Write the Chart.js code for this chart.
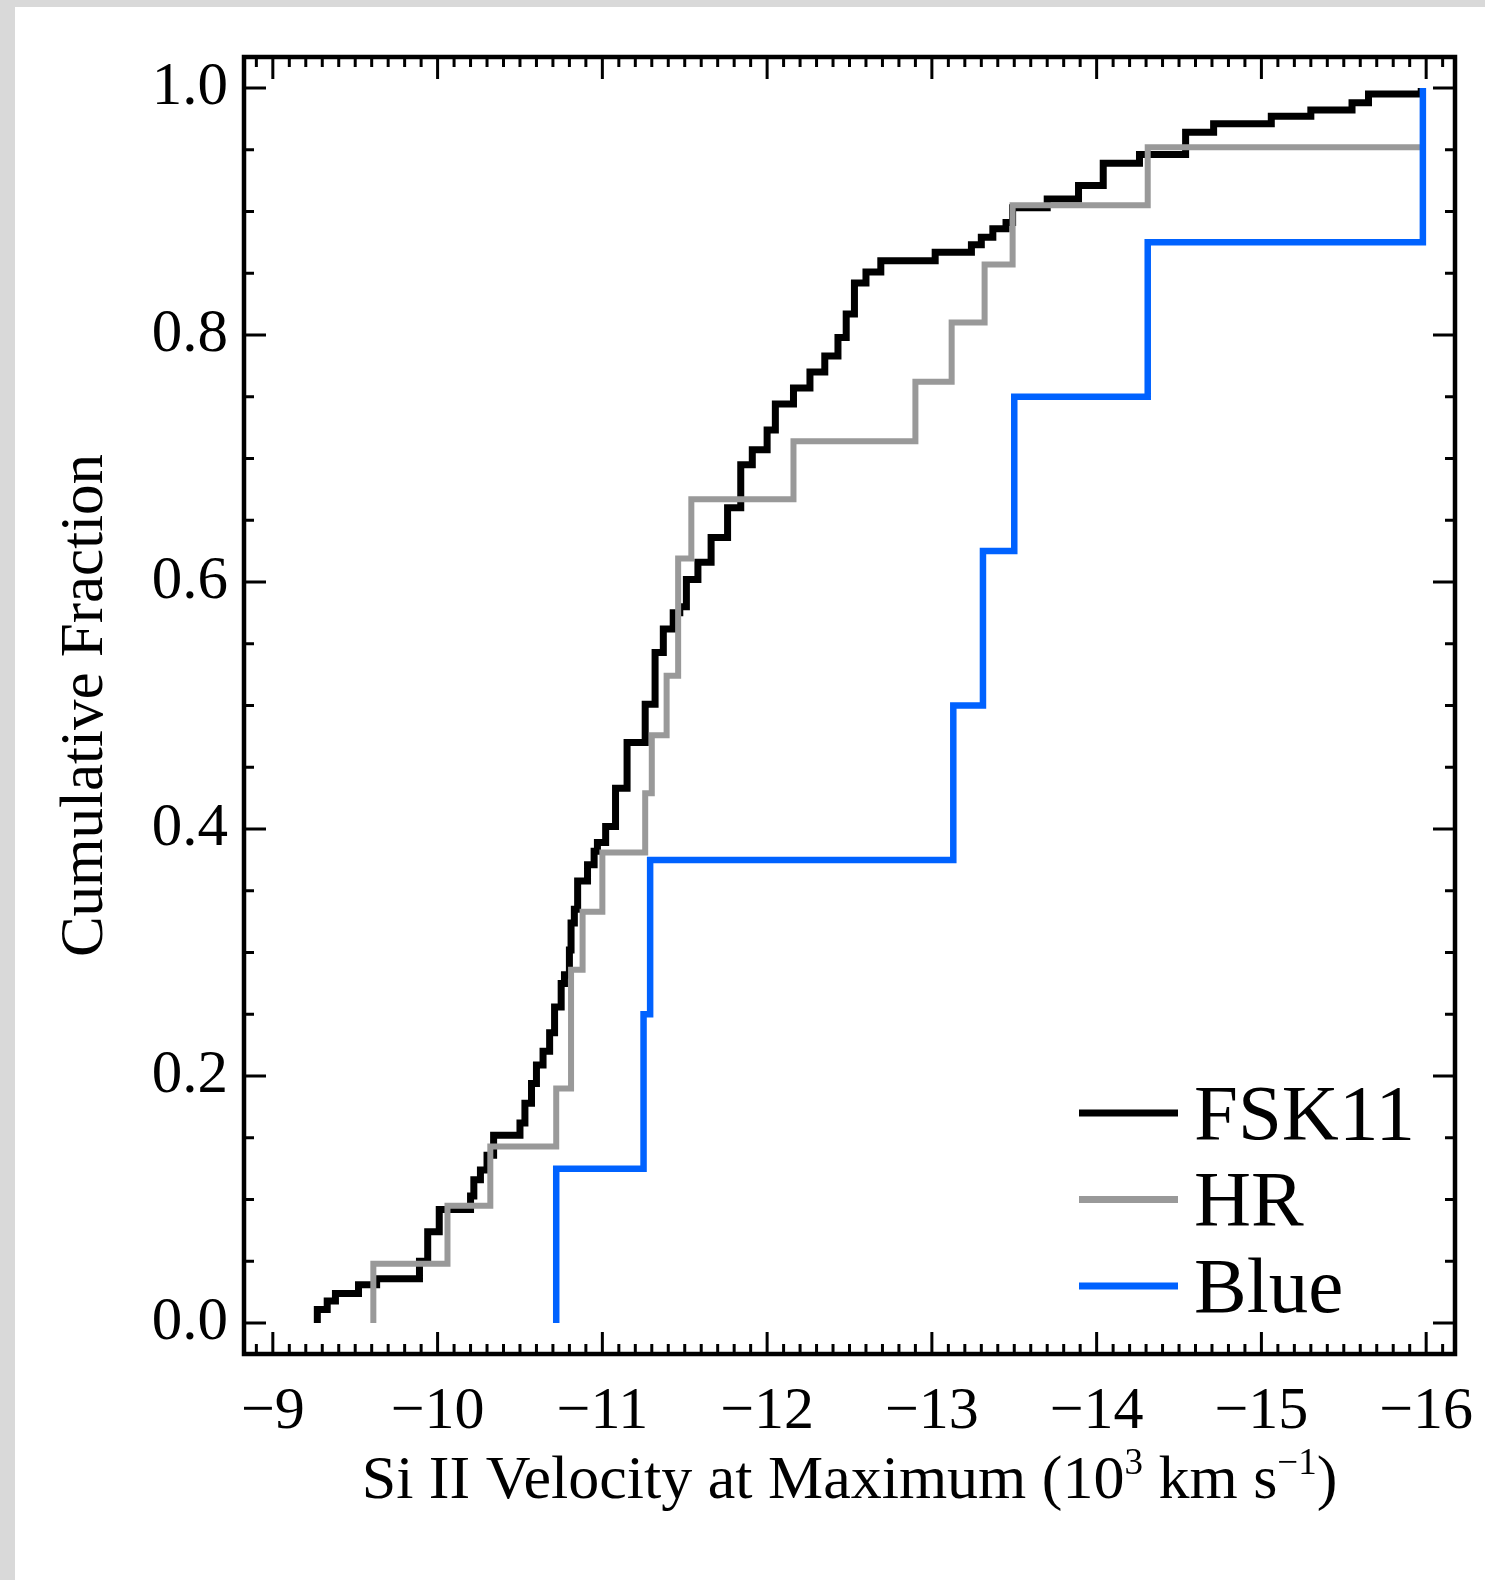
<!DOCTYPE html>
<html>
<head>
<meta charset="utf-8">
<title>Si II velocity at maximum - cumulative fraction</title>
<script src="https://cdn.jsdelivr.net/npm/chart.js@4.4.1/dist/chart.umd.min.js"></script>
<style>
  html, body { margin: 0; padding: 0; background: #fff; }
  #wrap { position: relative; width: 1485px; height: 1580px; overflow: hidden; }
  .edge { position: absolute; background: #d9d9d9; }
  #chart { position: absolute; left: 0; top: 0; }
</style>
</head>
<body>
<div id="wrap">
  <div class="edge" style="left:0;top:0;width:15px;height:1580px"></div>
  <div class="edge" style="left:0;top:0;width:1485px;height:7px"></div>
  <canvas id="chart" width="1485" height="1580"></canvas>
</div>
<script>
// --- data (velocity in 10^3 km/s, cumulative fraction) ---
const fskVel = [-9.27, -9.27, -9.33, -9.38, -9.52, -9.63, -9.89, -9.94, -10.01, -10.20,
    -10.22, -10.26, -10.30, -10.34, -10.50, -10.53, -10.57, -10.60, -10.64, -10.68,
    -10.71, -10.75, -10.77, -10.80, -10.81, -10.83, -10.85, -10.91, -10.95, -10.97,
    -11.02, -11.08, -11.15, -11.26, -11.32, -11.37, -11.43, -11.47, -11.51, -11.58,
    -11.66, -11.76, -11.84, -11.91, -12.00, -12.05, -12.16, -12.26, -12.35, -12.43,
    -12.48, -12.53, -12.60, -12.69, -13.02, -13.24, -13.30, -13.37, -13.45, -13.49,
    -13.70, -13.89, -14.04, -14.26, -14.54, -14.71, -15.06, -15.30, -15.55, -15.65, -15.97];
const fskFrac = [0, 0.011, 0.018, 0.024, 0.031, 0.036, 0.050, 0.074, 0.092, 0.103,
    0.116, 0.124, 0.136, 0.152, 0.162, 0.178, 0.194, 0.209, 0.220, 0.235,
    0.256, 0.275, 0.282, 0.302, 0.324, 0.335, 0.358, 0.371, 0.382, 0.389,
    0.402, 0.433, 0.470, 0.501, 0.543, 0.562, 0.575, 0.580, 0.602, 0.616,
    0.636, 0.660, 0.695, 0.707, 0.723, 0.744, 0.757, 0.770, 0.783, 0.798,
    0.817, 0.842, 0.851, 0.860, 0.867, 0.873, 0.879, 0.886, 0.891, 0.903,
    0.910, 0.921, 0.939, 0.946, 0.964, 0.971, 0.977, 0.982, 0.988, 0.995, 1.0];

const hrVel = [-9.61, -9.61, -10.06, -10.32, -10.72, -10.81, -10.88, -11.00, -11.26, -11.30,
    -11.39, -11.46, -11.46, -11.54, -12.16, -12.90, -13.12, -13.32, -13.49, -14.31, -15.97];
const hrFrac = [0, 0.048, 0.095, 0.143, 0.190, 0.286, 0.333, 0.381, 0.429, 0.476,
    0.524, 0.571, 0.619, 0.667, 0.714, 0.762, 0.810, 0.857, 0.905, 0.952, 0.952];

const blueVel = [-10.72, -10.72, -11.25, -11.29, -13.13, -13.31, -13.50, -14.31, -15.98];
const blueFrac = [0, 0.125, 0.25, 0.375, 0.5, 0.625, 0.75, 0.875, 1.0];

const xTicks = [-9, -10, -11, -12, -13, -14, -15, -16];
const yTicks = [0, 0.2, 0.4, 0.6, 0.8, 1.0];

const SERIF = "'Liberation Serif', 'Times New Roman', Times, serif";

function toPoints(xs, ys) {
    return xs.map((x, i) => ({ x: x, y: ys[i] }));
}

// --- inward ticks on all four sides + box frame ---
const frameTicks = {
    id: 'frameTicks',
    afterDatasetsDraw(chart) {
        const { ctx, chartArea: a, scales: { x, y } } = chart;
        ctx.save();
        ctx.strokeStyle = '#000';
        ctx.lineWidth = 3;
        ctx.beginPath();
        for (let i = -89; i >= -161; i--) {
            const px = x.getPixelForValue(i / 10);
            const len = i % 10 === 0 ? 22 : 10;
            ctx.moveTo(px, a.bottom); ctx.lineTo(px, a.bottom - len);
            ctx.moveTo(px, a.top); ctx.lineTo(px, a.top + len);
        }
        for (let j = 0; j <= 20; j++) {
            const py = y.getPixelForValue(j / 20);
            const len = j % 4 === 0 ? 22 : 10;
            ctx.moveTo(a.left, py); ctx.lineTo(a.left + len, py);
            ctx.moveTo(a.right, py); ctx.lineTo(a.right - len, py);
        }
        ctx.stroke();
        ctx.lineWidth = 4.5;
        ctx.strokeRect(a.left, a.top, a.right - a.left, a.bottom - a.top);
        ctx.restore();
    }
};

// --- legend in the lower right corner ---
const cornerLegend = {
    id: 'cornerLegend',
    afterDraw(chart) {
        const ctx = chart.ctx;
        ctx.save();
        ctx.font = '79px ' + SERIF;
        ctx.fillStyle = '#000';
        ctx.textBaseline = 'alphabetic';
        chart.data.datasets.forEach((ds, i) => {
            const yLine = 1113 + i * 86.5;
            ctx.strokeStyle = ds.borderColor;
            ctx.lineWidth = 7;
            ctx.beginPath();
            ctx.moveTo(1079, yLine);
            ctx.lineTo(1178, yLine);
            ctx.stroke();
            ctx.fillText(ds.label, 1194, yLine + 25.5);
        });
        ctx.restore();
    }
};

// --- x-axis title with superscripts ---
const xTitle = {
    id: 'xTitle',
    afterDraw(chart) {
        const ctx = chart.ctx;
        const a = chart.chartArea;
        const parts = [
            { t: 'Si II Velocity at Maximum (10', sup: false },
            { t: '3', sup: true },
            { t: ' km s', sup: false },
            { t: '\u22121', sup: true },
            { t: ')', sup: false }
        ];
        const big = '62px ' + SERIF, small = '37px ' + SERIF;
        ctx.save();
        ctx.fillStyle = '#000';
        ctx.textBaseline = 'alphabetic';
        let total = 0;
        parts.forEach(p => { ctx.font = p.sup ? small : big; p.w = ctx.measureText(p.t).width; total += p.w; });
        let xPos = (a.left + a.right) / 2 - total / 2;
        const base = 1498;
        parts.forEach(p => {
            ctx.font = p.sup ? small : big;
            ctx.fillText(p.t, xPos, p.sup ? base - 24 : base);
            xPos += p.w;
        });
        ctx.restore();
    }
};

const ctx = document.getElementById('chart').getContext('2d');

const chart = new Chart(ctx, {
    type: 'line',
    data: {
        datasets: [{
            label: 'FSK11',
            data: toPoints(fskVel, fskFrac),
            borderColor: '#000000',
            borderWidth: 7,
            order: 3
        }, {
            label: 'HR',
            data: toPoints(hrVel, hrFrac),
            borderColor: '#999999',
            borderWidth: 6,
            order: 2
        }, {
            label: 'Blue',
            data: toPoints(blueVel, blueFrac),
            borderColor: '#0062ff',
            borderWidth: 6.5,
            order: 1
        }]
    },
    options: {
        responsive: false,
        animation: false,
        events: [],
        elements: {
            line: { stepped: 'before', tension: 0, fill: false, borderJoinStyle: 'miter', borderCapStyle: 'butt' },
            point: { radius: 0 }
        },
        layout: { padding: { left: 0, top: 57, right: 30, bottom: 0 } },
        plugins: {
            legend: { display: false },
            tooltip: { enabled: false }
        },
        scales: {
            x: {
                type: 'linear',
                reverse: true,
                min: -16.175,
                max: -8.825,
                afterFit: (s) => {
                    s.height = 1580 - 1354;
                    s.paddingLeft = 0;
                    s.paddingRight = 0;
                },
                afterBuildTicks: (s) => { s.ticks = xTicks.map(v => ({ value: v })); },
                grid: { display: false, drawTicks: false },
                border: { display: false },
                ticks: {
                    color: '#000',
                    font: { family: SERIF, size: 60 },
                    padding: 22,
                    maxRotation: 0,
                    autoSkip: false,
                    callback: (v) => '\u2212' + Math.abs(v)
                }
            },
            y: {
                type: 'linear',
                min: -0.025,
                max: 1.025,
                afterFit: (s) => {
                    s.width = 244;
                    s.paddingTop = 0;
                    s.paddingBottom = 0;
                },
                afterBuildTicks: (s) => { s.ticks = yTicks.map(v => ({ value: v })); },
                grid: { display: false, drawTicks: false },
                border: { display: false },
                ticks: {
                    color: '#000',
                    font: { family: SERIF, size: 61 },
                    padding: 16,
                    callback: (v) => v.toFixed(1)
                },
                title: {
                    display: true,
                    text: 'Cumulative Fraction',
                    color: '#000',
                    font: { family: SERIF, size: 61 },
                    padding: { top: 49, bottom: 0 }
                }
            }
        }
    },
    plugins: [frameTicks, cornerLegend, xTitle]
});
</script>
</body>
</html>
